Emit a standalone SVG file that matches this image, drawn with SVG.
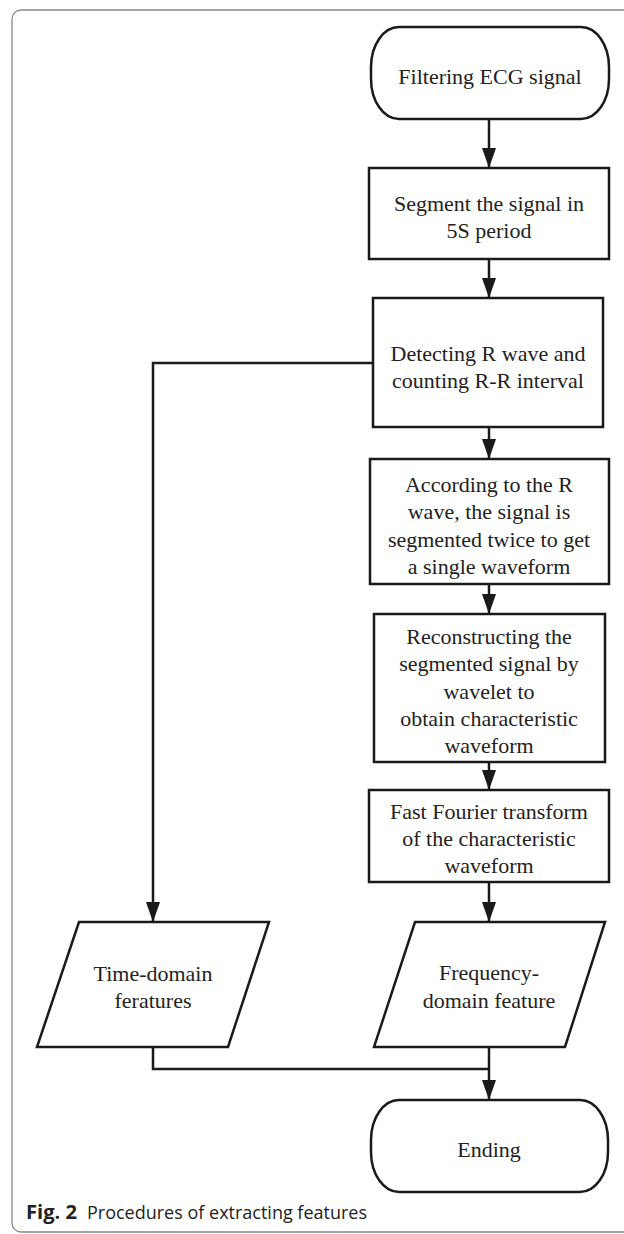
<svg xmlns="http://www.w3.org/2000/svg" width="624" height="1234" viewBox="0 0 624 1234">
<style>
.n{fill:#fff;stroke:#1a1a1a;stroke-width:2.5}
.t{font-family:"Liberation Serif","Times New Roman",serif;font-size:22px;fill:#222;text-anchor:middle}
.c{fill:none;stroke:#1a1a1a;stroke-width:2.5}
.cap{font-family:"Open Sans","Noto Sans",sans-serif;font-size:19px;fill:#222}
</style>
<defs>
<marker id="ah" markerUnits="userSpaceOnUse" markerWidth="20" markerHeight="14" refX="20" refY="7" orient="auto" viewBox="0 0 20 14">
<path d="M0,0 L20,7 L0,14 z" fill="#1a1a1a"/>
</marker>
</defs>
<rect x="12" y="10" width="700" height="1222" rx="9" fill="none" stroke="#888" stroke-width="1.3"/>
<g id="connectors">
<path class="c" d="M489,119 V168" marker-end="url(#ah)"/>
<path class="c" d="M489,259 V298" marker-end="url(#ah)"/>
<path class="c" d="M489,427 V459" marker-end="url(#ah)"/>
<path class="c" d="M489,584 V614" marker-end="url(#ah)"/>
<path class="c" d="M489,762 V790" marker-end="url(#ah)"/>
<path class="c" d="M489,882 V922" marker-end="url(#ah)"/>
<path class="c" d="M373,363 H153 V922" marker-end="url(#ah)"/>
<path class="c" d="M153,1047 V1069 H489"/>
<path class="c" d="M489,1047 V1100" marker-end="url(#ah)"/>
</g>
<g id="start">
<rect class="n" x="371" y="27" width="238" height="92" rx="28" ry="40"/>
<text class="t" x="490" y="84">Filtering ECG signal</text>
</g>
<g id="segment">
<rect class="n" x="369" y="168" width="240" height="91"/>
<text class="t" x="489" y="211">Segment the signal in</text>
<text class="t" x="489" y="238">5S period</text>
</g>
<g id="detect">
<rect class="n" x="373" y="298" width="230" height="129"/>
<text class="t" x="488" y="361">Detecting R wave and</text>
<text class="t" x="488" y="388">counting R-R interval</text>
</g>
<g id="according">
<rect class="n" x="370" y="459" width="239" height="125"/>
<text class="t" x="489" y="492">According to the R</text>
<text class="t" x="489" y="519">wave, the signal is</text>
<text class="t" x="489" y="547">segmented twice to get</text>
<text class="t" x="489" y="574">a single waveform</text>
</g>
<g id="reconstruct">
<rect class="n" x="374" y="614" width="231" height="148"/>
<text class="t" x="489" y="644">Reconstructing  the</text>
<text class="t" x="489" y="671">segmented signal by</text>
<text class="t" x="489" y="699">wavelet to</text>
<text class="t" x="489" y="726">obtain characteristic</text>
<text class="t" x="489" y="753">waveform</text>
</g>
<g id="fft">
<rect class="n" x="369" y="790" width="240" height="92"/>
<text class="t" x="489" y="819">Fast Fourier transform</text>
<text class="t" x="489" y="846">of the characteristic</text>
<text class="t" x="489" y="873">waveform</text>
</g>
<g id="timedomain">
<polygon class="n" points="79,922 269,922 228,1047 37,1047"/>
<text class="t" x="153" y="981">Time-domain</text>
<text class="t" x="153" y="1008">feratures</text>
</g>
<g id="freqdomain">
<polygon class="n" points="415,922 605,922 565,1047 374,1047"/>
<text class="t" x="489" y="980">Frequency-</text>
<text class="t" x="489" y="1008">domain feature</text>
</g>
<g id="ending">
<rect class="n" x="371" y="1100" width="237" height="92" rx="28" ry="40"/>
<text class="t" x="489" y="1157">Ending</text>
</g>
<g id="caption">
<text class="cap" x="26" y="1219" font-weight="bold" textLength="51" lengthAdjust="spacingAndGlyphs">Fig. 2</text>
<text class="cap" x="87" y="1219" textLength="280" lengthAdjust="spacingAndGlyphs">Procedures of extracting features</text>
</g>
</svg>
